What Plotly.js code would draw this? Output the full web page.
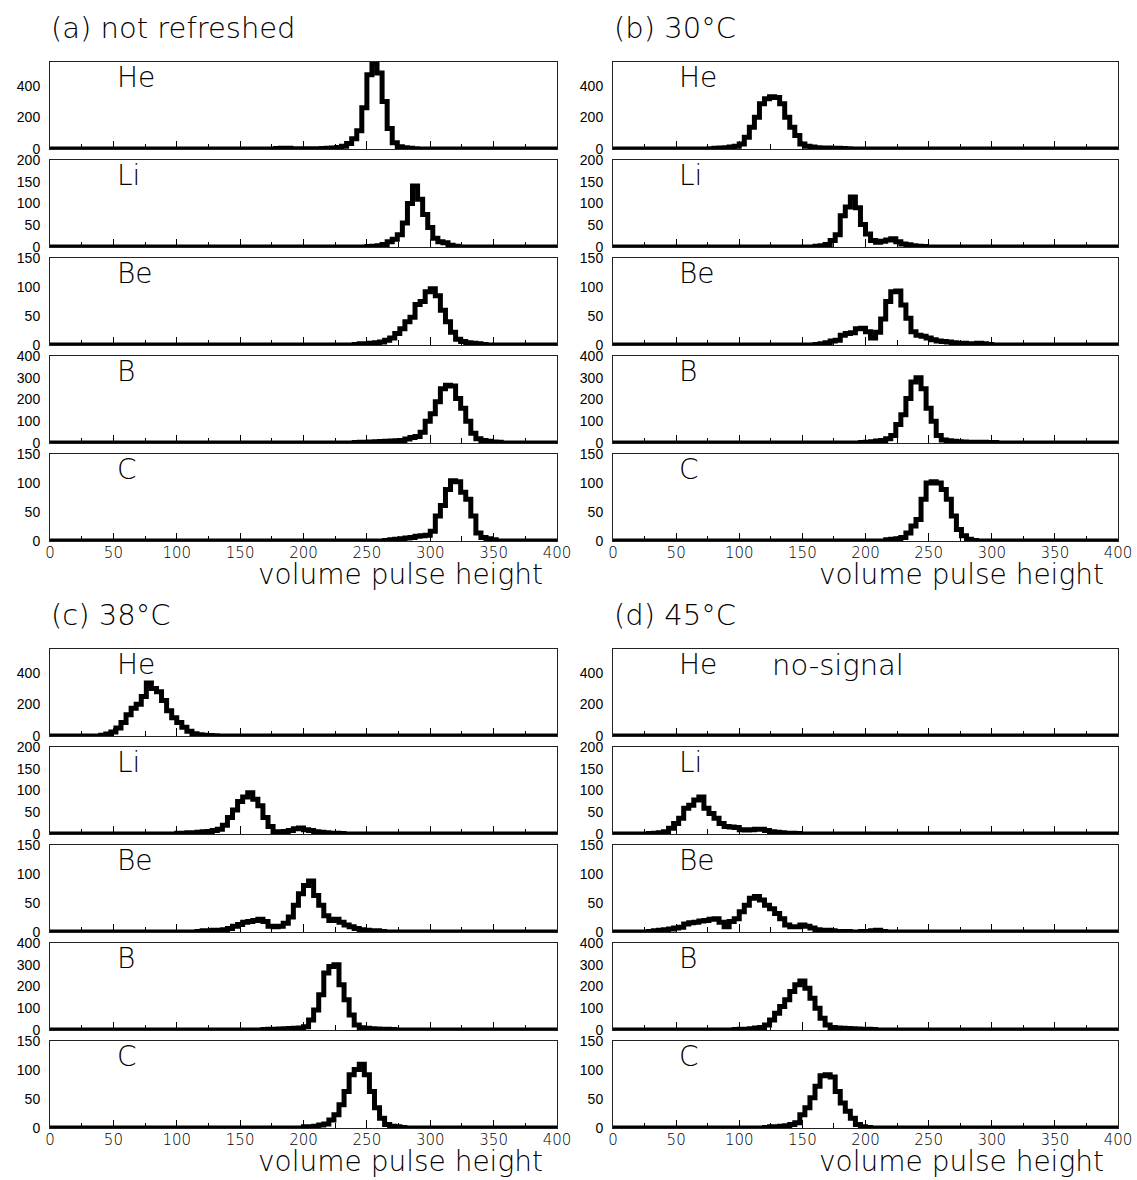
<!DOCTYPE html>
<html><head><meta charset="utf-8">
<script src="https://cdn.plot.ly/plotly-3.0.1.min.js"></script>
<style>html,body{margin:0;padding:0;background:#fff}</style>
</head><body><div id="chart" style="width:1137px;height:1180px"></div>
<script>
// ---------- data ----------
const elements = ["He","Li","Be","B","C"];
const panelTitles = ["(a) not refreshed","(b) 30°C","(c) 38°C","(d) 45°C"];
const xTitle = "volume pulse height";
const noSignalText = "no-signal";
const binWidth = 4;
const xRange = [0, 400];
const xTickVals = [0,50,100,150,200,250,300,350,400];
const yMax = [550, 200, 150, 400, 150];
const yTicksHe = [0,200,400];
const yTicksLi = [0,50,100,150,200];
const yTicksBe = [0,50,100,150];
const yTicksB  = [0,100,200,300,400];
const yTicksC  = [0,50,100,150];

// (a) not refreshed : first bin edge of each histogram, then counts
const startA = [178, 250, 240, 240, 264];
const aHe = [3,5,4,2,1,1,1,1,2,3,4,6,10,18,35,65,115,260,470,540,480,300,130,40,15,8,4,2];
const aLi = [1,2,3,6,12,18,28,55,100,140,110,75,45,20,12,10,4,2];
const aBe = [1,2,2,3,4,5,8,12,20,28,40,48,70,75,92,97,85,60,40,22,10,6,4,3,2,1];
const aB  = [2,3,4,5,6,7,8,9,10,12,18,25,30,50,100,135,190,250,265,262,205,160,100,45,20,12,8,5,3];
const aC  = [1,2,3,4,5,6,8,9,10,17,43,61,89,104,102,84,72,43,14,6,4,2];

// (b) 30°C
const startB = [76, 160, 160, 196, 216];
const bHe = [2,4,6,8,12,17,32,74,137,201,286,317,330,326,286,201,137,85,32,17,12,8,7,6,5,4,3,2];
const bLi = [2,3,6,15,28,72,92,115,90,52,30,15,11,13,16,19,12,7,5,3,2,1];
const bBe = [1,2,4,7,8,17,20,21,28,29,23,12,22,45,75,92,93,69,46,23,17,15,12,9,7,6,5,4,3,3,2,2,3,2,1];
const bB  = [2,4,6,9,12,20,35,85,130,205,280,300,250,160,100,35,14,10,8,6,5,4,4,3,3,2,2];
const bC  = [2,3,4,6,14,26,37,72,100,102,100,89,72,43,20,9,3,1];

// (c) 38°C
const startC = [40, 100, 116, 168, 200];
const cHe = [5,12,25,50,85,135,175,200,250,335,300,280,225,160,115,85,55,30,15,8,5,3,2];
const cLi = [2,2,3,3,4,5,6,8,11,20,38,55,75,85,95,80,65,38,17,5,4,6,8,12,14,10,8,5,4,3,2,2,1];
const cBe = [1,2,2,3,3,4,6,10,13,17,18,20,22,18,10,9,10,15,26,46,66,80,88,63,46,28,20,22,17,12,9,6,4,3,2,2,1];
const cB  = [2,3,4,5,6,7,8,9,15,46,92,162,262,292,300,208,139,69,23,10,8,6,5,4,3,2];
const cC  = [2,2,3,5,7,14,23,40,63,92,101,110,92,63,35,17,6,3,2,1];

// (d) 45°C  (He: no signal)
const startD = [0, 28, 28, 96, 120];
const dHe = [];
const dLi = [1,2,3,5,13,24,36,59,66,78,85,59,47,36,24,17,16,15,10,9,10,11,11,8,5,4,3,2,2,1];
const dBe = [1,2,3,4,5,7,8,14,16,17,19,20,22,23,17,9,18,23,35,46,58,61,55,46,40,32,23,12,9,9,12,10,7,4,3,3,2,1,1,1,0,0,1,1,2,3,1];
const dB  = [2,3,4,6,9,11,23,46,77,108,139,177,208,225,192,146,100,54,23,11,9,8,7,6,5,4,3,2];
const dC  = [1,2,2,3,4,6,9,23,35,52,72,90,92,88,63,43,29,17,6,2,1];

// ---------- build ----------
const yTicks = [yTicksHe, yTicksLi, yTicksBe, yTicksB, yTicksC];
const panels = [
  {start: startA, counts: [aHe,aLi,aBe,aB,aC]},
  {start: startB, counts: [bHe,bLi,bBe,bB,bC]},
  {start: startC, counts: [cHe,cLi,cBe,cB,cC]},
  {start: startD, counts: [dHe,dLi,dBe,dB,dC]}
];

const W = 1137, H = 1180;
const panelX = [[50,557],[613,1118],[50,557],[613,1118]];
const panelTop = [62, 62, 649, 649];
const rowStep = 98, rowH = 87;

const thinFont = "DejaVu Sans ExtraLight, DejaVu Sans, sans-serif";
const data = [];
const layout = {
  width: W, height: H,
  margin: {l:0, r:0, t:0, b:0},
  paper_bgcolor: "#fff", plot_bgcolor: "#fff",
  showlegend: false,
  annotations: []
};

function stepXY(start, counts) {
  const x = [xRange[0]], y = [0];
  counts.forEach((c, i) => { x.push(start + i * binWidth); y.push(c); });
  x.push(start + counts.length * binWidth); y.push(0);
  x.push(xRange[1]); y.push(0);
  return {x, y};
}

panels.forEach((p, pi) => {
  elements.forEach((el, ri) => {
    const k = pi * 5 + ri + 1;
    const xa = k === 1 ? "x" : "x" + k;
    const ya = k === 1 ? "y" : "y" + k;
    const xy = stepXY(p.start[ri], p.counts[ri]);
    data.push({
      type: "scatter", mode: "lines", x: xy.x, y: xy.y,
      xaxis: xa, yaxis: ya,
      line: {shape: "hv", color: "#000", width: 5},
      hoverinfo: "skip"
    });
    const top = panelTop[pi] + ri * rowStep;
    const bot = top + rowH;
    const [x0, x1] = panelX[pi];
    layout["xaxis" + (k === 1 ? "" : k)] = {
      domain: [x0 / W, x1 / W],
      anchor: ya, range: xRange,
      showline: true, mirror: true, linecolor: "#222", linewidth: 1,
      showgrid: false, zeroline: false,
      tickmode: "linear", tick0: xTickVals[0], dtick: xTickVals[1] - xTickVals[0],
      ticks: "inside", ticklen: 8, tickwidth: 1, tickcolor: "#000",
      minor: {dtick: (xTickVals[1] - xTickVals[0]) / 2, ticks: "inside", ticklen: 5, tickwidth: 1, tickcolor: "#000"},
      showticklabels: ri === 4,
      ticklabelstandoff: -2,
      tickfont: {family: thinFont, size: 15, color: "#000", weight: 200},
      fixedrange: true
    };
    layout["yaxis" + (k === 1 ? "" : k)] = {
      domain: [1 - bot / H, 1 - top / H],
      anchor: xa, range: [0, yMax[ri]],
      showline: true, mirror: true, linecolor: "#222", linewidth: 1,
      showgrid: false, zeroline: false,
      tickmode: "array", tickvals: yTicks[ri], ticks: "",
      ticklabelstandoff: 6,
      tickfont: {family: "Liberation Sans, Arial, sans-serif", size: 14, color: "#000"},
      fixedrange: true
    };
    layout.annotations.push({
      xref: xa, yref: ya + " domain", x: 51, y: 1.0, yshift: 3,
      xanchor: "left", yanchor: "top", showarrow: false,
      text: el, font: {family: thinFont, size: 28, color: "#000", weight: 200}
    });
    if (pi === 3 && ri === 0) {
      layout.annotations.push({
        xref: xa, yref: ya + " domain", x: 124, y: 1.0, yshift: 3,
        xanchor: "left", yanchor: "top", showarrow: false,
        text: noSignalText, font: {family: thinFont, size: 29, color: "#000", weight: 200}
      });
    }
    if (ri === 4) {
      layout.annotations.push({
        xref: xa, yref: "paper", x: 390, y: 1 - (bot + 33) / H,
        xanchor: "right", yanchor: "middle", showarrow: false, borderpad: 0,
        text: xTitle, font: {family: thinFont, size: 28, color: "#000", weight: 200}
      });
    }
  });
  layout.annotations.push({
    xref: "paper", yref: "paper", x: (panelX[pi][0] - 1) / W, y: 1 - (panelTop[pi] - 34) / H,
    xanchor: "left", yanchor: "middle", showarrow: false,
    text: panelTitles[pi], font: {family: thinFont, size: 29, color: "#000", weight: 200}
  });
});

Plotly.newPlot("chart", data, layout, {displayModeBar: false, staticPlot: true});
</script>
</body></html>
